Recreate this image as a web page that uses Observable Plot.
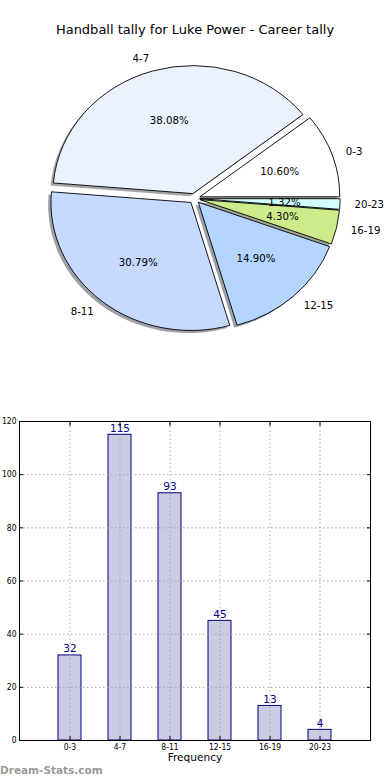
<!DOCTYPE html>
<html>
<head>
<meta charset="utf-8">
<script src="https://cdn.jsdelivr.net/npm/d3@7"></script>
<script src="https://cdn.jsdelivr.net/npm/@observablehq/plot@0.6"></script>
<style>
  html, body { margin: 0; padding: 0; background: #fff; }
  body { width: 390px; height: 780px; position: relative; overflow: hidden; font-family: "DejaVu Sans", sans-serif; }
  #title { position: absolute; left: 0; width: 390px; top: 21px; text-align: center; font-size: 13px; line-height: 18px; color: #000; }
  #pie { position: absolute; left: 0; top: 40px; }
  #bar { position: absolute; left: 0; top: 410px; }
  #footer { position: absolute; left: 0; top: 762px; font-size: 10.5px; font-weight: bold; color: #9a9a9a; line-height: 16px; }
  svg { overflow: visible; }
</style>
</head>
<body>
<div id="title">Handball tally for Luke Power - Career tally</div>
<div id="pie"></div>
<div id="bar"></div>
<div id="footer">Dream-Stats.com</div>
<script>
// ---- data ----
const categories = ["0-3", "4-7", "8-11", "12-15", "16-19", "20-23"];
const counts = [32, 115, 93, 45, 13, 4];
const pieColors = ["#ffffff", "#eaf2ff", "#c6daff", "#b4d5ff", "#cdeb8b", "#d2ffff"];
const yTicks = [0, 20, 40, 60, 80, 100, 120];

// ---- pie geometry derived from data ----
const total = d3.sum(counts);
const explode = 0.04;
let acc = 0;
const slices = categories.map((c, i) => {
  const t1 = acc / total * 2 * Math.PI;
  acc += counts[i];
  const t2 = acc / total * 2 * Math.PI;
  const mid = (t1 + t2) / 2;
  const ex = explode * Math.cos(mid), ey = explode * Math.sin(mid);
  return {
    cat: c, count: counts[i], color: pieColors[i], t1, t2, mid, ex, ey,
    lx: ex + 1.1 * Math.cos(mid), ly: ey + 1.1 * Math.sin(mid),
    px: ex + 0.6 * Math.cos(mid), py: ey + 0.6 * Math.sin(mid),
    pct: (counts[i] / total * 100).toFixed(2) + "%"
  };
});

function darken(hex) {
  const c = d3.rgb(hex);
  return d3.rgb(c.r * 0.3, c.g * 0.3, c.b * 0.3).formatHex();
}

function wedges(isShadow) {
  return (index, scales) => {
    const g = d3.create("svg:g");
    const rx = scales.x(1) - scales.x(0);
    const ry = scales.y(0) - scales.y(1);
    for (const s of slices) {
      const ox = isShadow ? -0.02 : 0, oy = isShadow ? -0.02 : 0;
      const cx = scales.x(s.ex + ox), cy = scales.y(s.ey + oy);
      const x1 = cx + rx * Math.cos(s.t1), y1 = cy - ry * Math.sin(s.t1);
      const x2 = cx + rx * Math.cos(s.t2), y2 = cy - ry * Math.sin(s.t2);
      const large = (s.t2 - s.t1) > Math.PI ? 1 : 0;
      const d = `M${cx},${cy}L${x1},${y1}A${rx},${ry} 0 ${large} 0 ${x2},${y2}Z`;
      const p = g.append("path").attr("d", d);
      if (isShadow) {
        p.attr("fill", darken(s.color)).attr("fill-opacity", 0.5).attr("stroke", "none");
      } else {
        p.attr("fill", s.color).attr("stroke", "#000").attr("stroke-width", 0.9).attr("stroke-linejoin", "miter");
      }
    }
    return g.node();
  };
}

const pie = Plot.plot({
  width: 390, height: 340,
  margin: 0,
  x: { domain: [-194.5 / 140, (390 - 194.5) / 140], range: [0, 390], axis: null },
  y: { domain: [(158.5 - 340) / 128, 158.5 / 128], range: [340, 0], axis: null },
  style: { fontFamily: "DejaVu Sans", fontSize: "10.2px", color: "#000", background: "transparent" },
  marks: [
    wedges(true),
    wedges(false),
    Plot.text(slices.filter(s => Math.cos(s.mid) >= 0), { x: "lx", y: "ly", text: "cat", textAnchor: "start", fill: "#000", fontSize: 10.2 }),
    Plot.text(slices.filter(s => Math.cos(s.mid) < 0), { x: "lx", y: "ly", text: "cat", textAnchor: "end", fill: "#000", fontSize: 10.2 }),
    Plot.text(slices, { x: "px", y: "py", text: "pct", fill: "#000", fontSize: 10.2 })
  ]
});
document.getElementById("pie").appendChild(pie);

// ---- bar chart ----
const barData = categories.map((c, i) => ({ cat: c, count: counts[i] }));
const tickFont = { fontFamily: "DejaVu Sans Condensed, DejaVu Sans", fontSize: 8.5 };

const bar = Plot.plot({
  width: 390, height: 370,
  marginTop: 11, marginBottom: 40, marginLeft: 19, marginRight: 20,
  style: { fontFamily: "DejaVu Sans Condensed, DejaVu Sans", fontSize: "8.5px", color: "#000", background: "transparent" },
  x: { type: "band", domain: categories, paddingInner: 0.54, paddingOuter: 0.78, label: null },
  y: { domain: [0, 120], label: null },
  marks: [
    Plot.barY(barData, { x: "cat", y: "count", fill: "#cbcbe3", stroke: "#000080", strokeWidth: 1 }),
    Plot.ruleX(categories, { x: d => d, y1: 0, y2: 120, stroke: "#a8a8a8", strokeWidth: 1, strokeDasharray: "1.5,2.5" }),
    Plot.ruleY(yTicks.slice(1, -1), { y: d => d, stroke: "#a8a8a8", strokeWidth: 1, strokeDasharray: "1.5,2.5" }),
    Plot.text(barData, { x: "cat", y: "count", text: d => String(d.count), dy: -3, lineAnchor: "bottom", fill: "#000080", fontSize: 10.5, fontFamily: "DejaVu Sans" }),
    Plot.axisX({ anchor: "bottom", tickSize: -4, tickPadding: 7, label: null, fontSize: 8.5 }),
    Plot.axisX({ anchor: "top", tickSize: -4, tickFormat: () => "", label: null }),
    Plot.axisY({ anchor: "left", ticks: yTicks, tickSize: -4, tickPadding: 7, label: null, fontSize: 8.5 }),
    Plot.axisY({ anchor: "right", ticks: yTicks, tickSize: -4, tickFormat: () => "", label: null }),
    Plot.frame({ stroke: "#000", strokeWidth: 1 }),
    Plot.text(["Frequency"], { frameAnchor: "bottom", dy: 20, text: d => d, fontSize: 10.6, fontFamily: "DejaVu Sans", fill: "#000" })
  ]
});
document.getElementById("bar").appendChild(bar);
</script>
</body>
</html>
